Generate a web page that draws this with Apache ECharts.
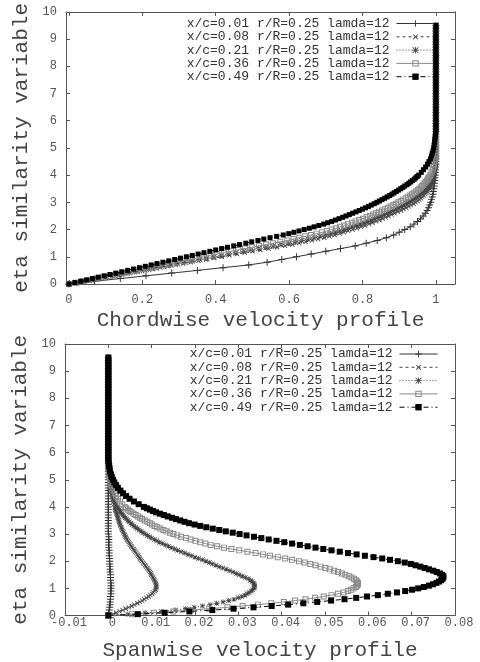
<!DOCTYPE html>
<html><head><meta charset="utf-8">
<script src="https://cdn.jsdelivr.net/npm/echarts@6/dist/echarts.min.js"></script>
<style>html,body{margin:0;padding:0;background:#fff}#c{width:480px;height:662px}</style>
</head><body><div id="c"></div>
<script>
const seriesNames = [
  'x/c=0.01 r/R=0.25 lamda=12',
  'x/c=0.08 r/R=0.25 lamda=12',
  'x/c=0.21 r/R=0.25 lamda=12',
  'x/c=0.36 r/R=0.25 lamda=12',
  'x/c=0.49 r/R=0.25 lamda=12'
];
const chordTicks = [0,0.2,0.4,0.6,0.8,1];

// eta similarity variable, coarse grid (x/c=0.01 profiles)
const etaCoarse = [
  0,0.1,0.2,0.3,0.4,0.5,0.6,0.7,0.8,0.9,
  1,1.1,1.2,1.3,1.4,1.5,1.6,1.7,1.8,1.9,
  2,2.1,2.2,2.3,2.4,2.5,2.6,2.7,2.8,2.9,
  3,3.1,3.2,3.3,3.4,3.5,3.6,3.7,3.8,3.9,
  4,4.1,4.2,4.3,4.4,4.5,4.6,4.7,4.8,4.9,
  5,5.1,5.2,5.3,5.4,5.5,5.6,5.7,5.8,5.9,
  6,6.1,6.2,6.3,6.4,6.5,6.6,6.7,6.8,6.9,
  7,7.1,7.2,7.3,7.4,7.5,7.6,7.7,7.8,7.9,
  8,8.1,8.2,8.3,8.4,8.5,8.6,8.7,8.8,8.9,
  9,9.1,9.2,9.3,9.4,9.5
];
// eta similarity variable, fine grid near the wall (other profiles)
const etaFine = [
  0,0.05,0.1,0.15,0.2,0.25,0.3,0.35,0.4,0.45,
  0.5,0.55,0.6,0.65,0.7,0.75,0.8,0.85,0.9,0.95,
  1,1.05,1.1,1.15,1.2,1.25,1.3,1.35,1.4,1.45,
  1.5,1.55,1.6,1.65,1.7,1.75,1.8,1.85,1.9,1.95,
  2,2.05,2.1,2.15,2.2,2.25,2.3,2.35,2.4,2.45,
  2.5,2.55,2.6,2.65,2.7,2.75,2.8,2.85,2.9,2.95,
  3,3.05,3.1,3.15,3.2,3.25,3.3,3.35,3.4,3.45,
  3.5,3.55,3.6,3.65,3.7,3.75,3.8,3.85,3.9,3.95,
  4,
  4.1,4.2,4.3,4.4,4.5,4.6,4.7,4.8,4.9,
  5,5.1,5.2,5.3,5.4,5.5,5.6,5.7,5.8,5.9,
  6,6.1,6.2,6.3,6.4,6.5,6.6,6.7,6.8,6.9,
  7,7.1,7.2,7.3,7.4,7.5,7.6,7.7,7.8,7.9,
  8,8.1,8.2,8.3,8.4,8.5,8.6,8.7,8.8,8.9,
  9,9.1,9.2,9.3,9.4,9.5
];

// Chordwise velocity profiles
const chordU1 = [ // on etaCoarse
  0,0.07,0.14,0.21,0.28,0.35,0.42,0.49,0.54,0.58,
  0.62,0.66,0.70,0.74,0.78,0.81,0.84,0.865,0.885,0.90,
  0.915,0.93,0.94,0.95,0.958,0.965,0.971,0.976,0.98,0.983,
  0.986,0.988,0.99,0.992,0.993,0.994,0.995,0.996,0.997,0.997,
  0.998,0.998,0.999,0.999,1,1,1,1,1,1,
  1,1,1,1,1,1,1,1,1,1,
  1,1,1,1,1,1,1,1,1,1,
  1,1,1,1,1,1,1,1,1,1,
  1,1,1,1,1,1,1,1,1,1,
  1,1,1,1,1,1
];
const chordU2 = [ // on etaFine
  0,0.021,0.042,0.062,0.083,0.104,0.125,0.145,0.166,0.187,
  0.208,0.228,0.249,0.27,0.291,0.311,0.332,0.353,0.374,0.395,
  0.416,0.437,0.458,0.479,0.501,0.522,0.544,0.567,0.589,0.609,
  0.627,0.645,0.662,0.679,0.696,0.71,0.724,0.737,0.749,0.761,
  0.773,0.785,0.796,0.807,0.817,0.827,0.837,0.846,0.855,0.863,
  0.871,0.879,0.887,0.896,0.905,0.912,0.919,0.926,0.932,0.939,
  0.945,0.95,0.955,0.959,0.963,0.967,0.971,0.974,0.977,0.98,
  0.983,0.985,0.987,0.989,0.99,0.992,0.993,0.994,0.995,0.9955,
  0.996,
  0.997,0.998,0.999,1,1,1,1,1,1,
  1,1,1,1,1,1,1,1,1,1,
  1,1,1,1,1,1,1,1,1,1,
  1,1,1,1,1,1,1,1,1,1,
  1,1,1,1,1,1,1,1,1,1,
  1,1,1,1,1,1
];
const chordU3 = [
  0,0.02,0.04,0.06,0.079,0.099,0.119,0.138,0.158,0.178,
  0.198,0.217,0.237,0.257,0.277,0.296,0.316,0.336,0.356,0.375,
  0.395,0.415,0.435,0.455,0.476,0.496,0.517,0.537,0.557,0.578,
  0.599,0.617,0.634,0.651,0.668,0.684,0.699,0.712,0.725,0.737,
  0.749,0.761,0.772,0.783,0.794,0.804,0.814,0.824,0.833,0.842,
  0.851,0.86,0.868,0.876,0.884,0.892,0.899,0.906,0.913,0.92,
  0.926,0.932,0.938,0.944,0.949,0.954,0.958,0.962,0.966,0.97,
  0.973,0.976,0.978,0.981,0.983,0.985,0.987,0.989,0.99,0.992,
  0.993,
  0.995,0.996,0.997,0.998,0.999,1,1,1,1,
  1,1,1,1,1,1,1,1,1,1,
  1,1,1,1,1,1,1,1,1,1,
  1,1,1,1,1,1,1,1,1,1,
  1,1,1,1,1,1,1,1,1,1,
  1,1,1,1,1,1
];
const chordU4 = [
  0,0.018,0.037,0.055,0.074,0.092,0.11,0.128,0.147,0.165,
  0.184,0.202,0.221,0.239,0.258,0.276,0.294,0.312,0.331,0.349,
  0.368,0.386,0.404,0.423,0.442,0.461,0.48,0.499,0.518,0.537,
  0.556,0.576,0.595,0.612,0.628,0.644,0.66,0.675,0.69,0.703,
  0.716,0.728,0.739,0.75,0.76,0.771,0.781,0.791,0.801,0.811,
  0.82,0.829,0.837,0.845,0.853,0.861,0.869,0.877,0.884,0.891,
  0.898,0.905,0.911,0.918,0.924,0.93,0.935,0.941,0.946,0.951,
  0.955,0.959,0.962,0.966,0.969,0.972,0.975,0.978,0.98,0.983,
  0.985,
  0.988,0.991,0.993,0.995,0.996,0.997,0.998,0.999,1,
  1,1,1,1,1,1,1,1,1,1,
  1,1,1,1,1,1,1,1,1,1,
  1,1,1,1,1,1,1,1,1,1,
  1,1,1,1,1,1,1,1,1,1,
  1,1,1,1,1,1
];
const chordU5 = [
  0,0.016,0.032,0.048,0.064,0.08,0.096,0.112,0.128,0.144,
  0.16,0.176,0.192,0.208,0.224,0.24,0.256,0.272,0.288,0.304,
  0.32,0.336,0.352,0.368,0.384,0.4,0.416,0.432,0.449,0.465,
  0.482,0.498,0.515,0.531,0.548,0.566,0.584,0.599,0.613,0.627,
  0.641,0.655,0.668,0.681,0.694,0.705,0.716,0.726,0.736,0.746,
  0.755,0.764,0.773,0.782,0.791,0.8,0.808,0.816,0.824,0.832,
  0.839,0.846,0.853,0.86,0.867,0.874,0.88,0.886,0.892,0.898,
  0.904,0.91,0.915,0.921,0.926,0.931,0.936,0.941,0.945,0.949,
  0.953,
  0.96,0.966,0.972,0.977,0.981,0.985,0.988,0.99,0.992,
  0.994,0.995,0.996,0.997,0.998,0.999,1,1,1,1,
  1,1,1,1,1,1,1,1,1,1,
  1,1,1,1,1,1,1,1,1,1,
  1,1,1,1,1,1,1,1,1,1,
  1,1,1,1,1,1
];

// Spanwise velocity profiles
const spanW1 = [ // on etaCoarse
  0,0.0001,0.0002,0.0003,0.0004,0.0004,0.0005,0.0005,0.0006,0.0006,
  0.0006,0.0006,0.0006,0.0005,0.0005,0.0005,0.0004,0.0004,0.0004,0.0003,
  0.0003,0.0003,0.0002,0.0002,0.0002,0.0001,0.0001,0.0001,0.0001,0.0001,
  0,0,0,0,0,0,0,0,0,0,
  0,0,0,0,0,0,0,0,0,0,
  0,0,0,0,0,0,0,0,0,0,
  0,0,0,0,0,0,0,0,0,0,
  0,0,0,0,0,0,0,0,0,0,
  0,0,0,0,0,0,0,0,0,0,
  0,0,0,0,0,0
];
const spanW2 = [ // on etaFine
  0,0.001,0.0018,0.0026,0.0033,0.004,0.0047,0.0054,0.006,0.0067,
  0.0073,0.0078,0.0083,0.0088,0.0093,0.0097,0.0101,0.0104,0.0107,0.0109,
  0.011,0.0111,0.0111,0.011,0.0109,0.0108,0.0106,0.0105,0.0103,0.0101,
  0.0099,0.0098,0.0096,0.0094,0.0092,0.009,0.0087,0.0085,0.0082,0.008,
  0.0077,0.0075,0.0073,0.0071,0.0069,0.0067,0.0064,0.0062,0.006,0.0058,
  0.0055,0.0053,0.0051,0.0049,0.0047,0.0045,0.0043,0.0041,0.004,0.0038,
  0.0037,0.0035,0.0034,0.0032,0.0031,0.003,0.0028,0.0027,0.0026,0.0025,
  0.0024,0.0023,0.0022,0.0021,0.002,0.0019,0.0018,0.0017,0.0016,0.0015,
  0.0015,
  0.0013,0.0012,0.0011,0.001,0.0009,0.0008,0.0007,0.0006,0.0005,
  0.0004,0.0004,0.0003,0.0003,0.0002,0.0002,0.0001,0.0001,0,0,
  0,0,0,0,0,0,0,0,0,0,
  0,0,0,0,0,0,0,0,0,0,
  0,0,0,0,0,0,0,0,0,0,
  0,0,0,0,0,0
];
const spanW3 = [
  0,0.0045,0.0085,0.0122,0.0155,0.0178,0.0198,0.0217,0.0235,0.025,
  0.0265,0.0278,0.029,0.03,0.0308,0.0315,0.032,0.0325,0.033,0.0333,
  0.0336,0.0337,0.0338,0.0337,0.0335,0.0332,0.0328,0.0323,0.0316,0.0309,
  0.0302,0.0295,0.0288,0.028,0.0272,0.0264,0.0256,0.0248,0.024,0.0233,
  0.0225,0.0217,0.0208,0.02,0.0192,0.0184,0.0176,0.0168,0.016,0.0153,
  0.0146,0.0139,0.0132,0.0125,0.0118,0.0112,0.0106,0.01,0.0095,0.009,
  0.0085,0.008,0.0076,0.0071,0.0067,0.0063,0.0059,0.0055,0.0052,0.0048,
  0.0045,0.0042,0.0039,0.0036,0.0034,0.0031,0.0029,0.0027,0.0025,0.0023,
  0.0021,
  0.0018,0.0015,0.0012,0.001,0.0008,0.0006,0.0005,0.0004,0.0003,
  0.0002,0.0001,0,0,0,0,0,0,0,0,
  0,0,0,0,0,0,0,0,0,0,
  0,0,0,0,0,0,0,0,0,0,
  0,0,0,0,0,0,0,0,0,0,
  0,0,0,0,0,0
];
const spanW4 = [
  0,0.0055,0.0105,0.015,0.019,0.0233,0.0275,0.031,0.0345,0.0376,
  0.0405,0.0431,0.0455,0.0477,0.0497,0.0515,0.053,0.0543,0.0553,0.056,
  0.0566,0.0571,0.0574,0.0576,0.0576,0.0574,0.0571,0.0567,0.0561,0.0555,
  0.0547,0.0539,0.053,0.0521,0.0511,0.0501,0.049,0.0478,0.0466,0.0453,
  0.044,0.0424,0.0408,0.0391,0.0373,0.0357,0.034,0.0321,0.0302,0.0284,
  0.0267,0.0251,0.0236,0.0224,0.0212,0.0201,0.019,0.0179,0.0168,0.0159,
  0.015,0.0142,0.0134,0.0127,0.012,0.0113,0.0107,0.0101,0.0096,0.009,
  0.0084,0.0078,0.0073,0.0068,0.0063,0.0058,0.0053,0.0049,0.0045,0.0041,
  0.0038,
  0.0032,0.0027,0.0022,0.0018,0.0015,0.0012,0.0009,0.0007,0.0005,
  0.0004,0.0003,0.0002,0.0001,0,0,0,0,0,0,
  0,0,0,0,0,0,0,0,0,0,
  0,0,0,0,0,0,0,0,0,0,
  0,0,0,0,0,0,0,0,0,0,
  0,0,0,0,0,0
];
const spanW5 = [
  0,0.0068,0.013,0.0187,0.024,0.0289,0.0335,0.0377,0.0415,0.045,
  0.0482,0.0514,0.0545,0.0572,0.0597,0.0622,0.0645,0.0666,0.0685,0.0701,
  0.0715,0.0728,0.074,0.0749,0.0757,0.0763,0.0768,0.0771,0.0773,0.0773,
  0.077,0.0765,0.0758,0.075,0.074,0.073,0.072,0.0709,0.0698,0.0684,
  0.0668,0.065,0.0632,0.0612,0.0592,0.0573,0.0553,0.0534,0.0515,0.0496,
  0.0478,0.046,0.0442,0.0424,0.0406,0.0388,0.037,0.0353,0.0336,0.0319,
  0.0303,0.0287,0.0271,0.0256,0.0241,0.0226,0.0212,0.0199,0.0186,0.0176,
  0.0166,0.0156,0.0147,0.0137,0.0128,0.0119,0.011,0.0103,0.0096,0.0089,
  0.0082,
  0.007,0.0059,0.0049,0.0041,0.0034,0.0028,0.0022,0.0018,0.0014,
  0.0011,0.0008,0.0006,0.0004,0.0003,0.0002,0.0001,0,0,0,
  0,0,0,0,0,0,0,0,0,0,
  0,0,0,0,0,0,0,0,0,0,
  0,0,0,0,0,0,0,0,0,0,
  0,0,0,0,0,0
];

const chordProfiles = [chordU1, chordU2, chordU3, chordU4, chordU5];
const spanProfiles = [spanW1, spanW2, spanW3, spanW4, spanW5];
const etaGrids = [etaCoarse, etaFine, etaFine, etaFine, etaFine];

const PLUS = 'path://M4.3,0h1.4v10h-1.4zM0,4.3h10v1.4h-10z';
const STAR = 'path://M4.3,0h1.4v10h-1.4zM0,4.3h10v1.4h-10zM1,0L10,9L9,10L0,1zM9,0L10,1L1,10L0,9z';
const OPENSQ = 'path://M0,0h10v10h-10zM1.6,1.6v6.8h6.8v-6.8z';

const styles = [
  {symbol: PLUS, rot: 0, size: [7, 7], color: '#333', dash: 'solid'},
  {symbol: PLUS, rot: 45, size: [6, 6], color: '#444', dash: [3, 3]},
  {symbol: STAR, rot: 0, size: [6, 5], color: '#444', dash: [1, 2]},
  {symbol: OPENSQ, rot: 0, size: [6, 6], color: '#8a8a8a', dash: 'solid'},
  {symbol: 'rect', rot: 0, size: [5, 6], color: '#000', dash: [5, 3, 1, 3]}
];

const FONT = 'Liberation Mono';
const lineC = '#555';

function baseAxis(extra) {
  return Object.assign({
    type: 'value',
    axisLine: {show: true, onZero: false, lineStyle: {color: lineC, width: 1}},
    axisTick: {show: true, inside: true, length: 4, lineStyle: {color: lineC}},
    splitLine: {show: false},
    axisLabel: {fontFamily: FONT, fontSize: 12, color: '#555'}
  }, extra);
}
function merge(a, b) { return Object.assign({}, a, b); }

const chart = echarts.init(document.getElementById('c'), null, {renderer: 'canvas'});

const xAxes = [
  baseAxis({gridIndex: 0, position: 'bottom', min: -0.008, max: 1.052,
    axisTick: {show: true, inside: true, length: 4, lineStyle: {color: lineC}, customValues: chordTicks},
    axisLabel: {fontFamily: FONT, fontSize: 12, color: '#555', margin: 10, customValues: chordTicks},
    name: 'Chordwise velocity profile', nameLocation: 'middle', nameGap: 26,
    nameTextStyle: {fontFamily: FONT, fontSize: 21, color: '#444'}}),
  baseAxis({gridIndex: 0, position: 'top', min: -0.008, max: 1.052,
    axisTick: {show: true, inside: true, length: 4, lineStyle: {color: lineC}, customValues: chordTicks},
    axisLabel: {show: false}}),
  baseAxis({gridIndex: 1, position: 'bottom', min: -0.01, max: 0.08, interval: 0.01,
    axisLabel: {fontFamily: FONT, fontSize: 12, color: '#555', margin: 1, padding: [0, 0, 0, 8]},
    name: 'Spanwise velocity profile', nameLocation: 'middle', nameGap: 24,
    nameTextStyle: {fontFamily: FONT, fontSize: 21, color: '#444'}}),
  baseAxis({gridIndex: 1, position: 'top', min: -0.01, max: 0.08, interval: 0.01,
    axisLabel: {show: false}})
];
const yName = {name: 'eta similarity variable', nameLocation: 'middle', nameGap: 33,
  nameTextStyle: {fontFamily: FONT, fontSize: 21, color: '#444'}};
const yAxes = [
  baseAxis(merge({gridIndex: 0, position: 'left', min: 0, max: 10, interval: 1,
    axisLabel: {fontFamily: FONT, fontSize: 12, color: '#555', margin: 9}}, yName)),
  baseAxis({gridIndex: 0, position: 'right', min: 0, max: 10, interval: 1, axisLabel: {show: false}}),
  baseAxis(merge({gridIndex: 1, position: 'left', min: 0, max: 10, interval: 1,
    axisLabel: {fontFamily: FONT, fontSize: 12, color: '#555', margin: 9}}, yName)),
  baseAxis({gridIndex: 1, position: 'right', min: 0, max: 10, interval: 1, axisLabel: {show: false}})
];

const series = [];
[chordProfiles, spanProfiles].forEach(function (profiles, panel) {
  profiles.forEach(function (vals, k) {
    const st = styles[k];
    series.push({
      type: 'line',
      name: seriesNames[k],
      xAxisIndex: panel * 2,
      yAxisIndex: panel * 2,
      data: etaGrids[k].map(function (e, i) { return [vals[i], e]; }),
      symbol: st.symbol,
      symbolRotate: st.rot,
      symbolSize: st.size[panel],
      showSymbol: true,
      showAllSymbol: true,
      itemStyle: {color: st.color},
      lineStyle: {color: st.color, width: 1, type: st.dash},
      emphasis: {disabled: true},
      silent: true,
      z: 2 + k
    });
  });
});

const legendBase = {
  orient: 'vertical',
  align: 'right',
  itemWidth: 38,
  itemHeight: 8,
  itemGap: 0.3,
  padding: 0,
  selectedMode: false,
  lineStyle: {width: 1},
  textStyle: {fontFamily: FONT, fontSize: 13, color: '#333', lineHeight: 13, padding: [0, 2, 0, 0]},
  data: seriesNames
};

chart.setOption({
  animation: false,
  backgroundColor: '#fff',
  grid: [
    {left: 66, top: 10, width: 389, height: 274},
    {left: 65, top: 344, width: 390, height: 271.5}
  ],
  xAxis: xAxes,
  yAxis: yAxes,
  legend: [
    merge(legendBase, {right: 45, top: 17}),
    merge(legendBase, {right: 42, top: 347.5})
  ],
  series: series
});
</script>
</body></html>
